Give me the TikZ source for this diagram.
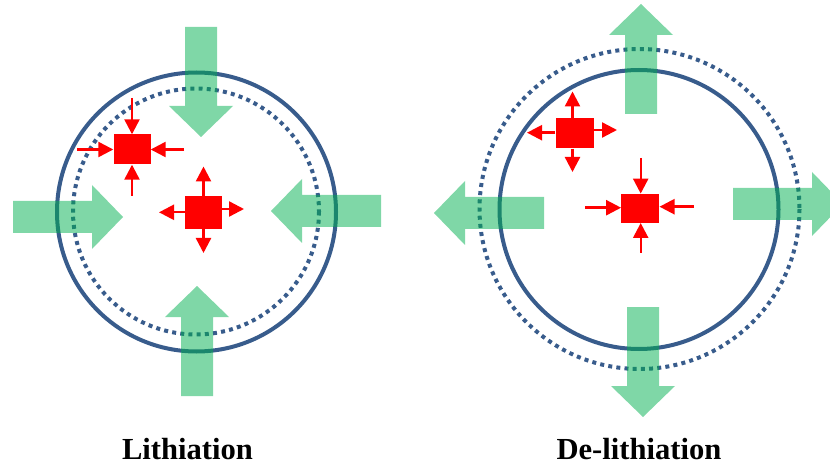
\documentclass[tikz,border=0pt]{standalone}
\usepackage{fontspec}
\setmainfont{Liberation Serif}
\usetikzlibrary{arrows.meta}
\definecolor{ringblue}{RGB}{56,92,140}
\definecolor{garrowgreen}{RGB}{0,176,80}
\tikzset{
  ring/.style={draw=ringblue, line width=4pt},
  dotring/.style={draw=ringblue, line width=4pt, dash pattern=on 4pt off 4.2pt},
  garrow/.style={fill=garrowgreen, opacity=0.5, draw=none},
  redsq/.style={rectangle, fill=red, draw=none, inner sep=0pt, minimum width=37pt, minimum height=30pt},
  redarr/.style={draw=red, line width=2.4pt, -{Triangle[length=15pt,width=15pt]}},
  label/.style={anchor=base, font=\bfseries\fontsize{30.6pt}{34pt}\selectfont, inner sep=0pt}
}
\newcommand\greenarrow[3]{%
  \begin{scope}[shift={(#1,#2)}, rotate=#3]
    \fill[garrow] (0,-16) -- (79,-16) -- (79,-32) -- (110,0) -- (79,32) -- (79,16) -- (0,16) -- cycle;
  \end{scope}}
\begin{document}
\begin{tikzpicture}[x=1pt,y=-1pt]
\useasboundingbox (0,0) rectangle (830,465);
% ---------- Lithiation ----------
\draw[ring] (196.5,212) circle[radius=139.5];
\draw[dotring] (196,211.5) circle[radius=123];
\greenarrow{201}{27}{-90}
\greenarrow{13}{217}{0}
\greenarrow{381}{211}{180}
\greenarrow{197}{396}{90}
\node[redsq] (A) at (132,149.5) {};
\node[redsq, minimum height=33pt] (B) at (203.5,212.3) {};
\coordinate (a1) at (132,98);
\coordinate (a2) at (132,196);
\coordinate (a3) at (77,149.5);
\coordinate (a4) at (184,149.5);
\draw[redarr] (a1) -- (A.north);
\draw[redarr] (a2) -- (A.south);
\draw[redarr] (a3) -- (A.west);
\draw[redarr] (a4) -- (A.east);
\coordinate (b1) at (203.5,166.5);
\coordinate (b2) at (203.5,253);
\coordinate (b3) at (159,212.3);
\coordinate (b4) at (244,209);
\draw[redarr] (B.north) -- (b1);
\draw[redarr] (B.south) -- (b2);
\draw[redarr] (B.west |- b3) -- (b3);
\draw[redarr] (B.east |- b4) -- (b4);
\node[label] (L1) at (187.5,459) {Lithiation};
% ---------- De-lithiation ----------
\draw[ring] (639,209.5) circle[radius=139.5];
\draw[dotring] (639.5,209) circle[radius=160];
\greenarrow{641}{114}{90}
\greenarrow{544}{213}{180}
\greenarrow{733}{204}{0}
\greenarrow{643}{307}{-90}
\node[redsq, minimum width=38pt] (C) at (574.5,133.5) {};
\node[redsq, minimum width=38pt, minimum height=29pt] (D) at (640.3,208.3) {};
\coordinate (c1) at (572.5,91.5);
\coordinate (c2) at (572.5,172);
\coordinate (c3) at (527,132.7);
\coordinate (c4) at (617,130);
\draw[redarr] (C.north -| c1) -- (c1);
\draw[redarr] (C.south -| c2) -- (c2);
\draw[redarr] (C.west |- c3) -- (c3);
\draw[redarr] (C.east |- c4) -- (c4);
\coordinate (d1) at (640.7,158);
\coordinate (d2) at (640.7,253);
\coordinate (d3) at (585,207.7);
\coordinate (d4) at (694,206.7);
\draw[redarr] (d1) -- (D.north -| d1);
\draw[redarr] (d2) -- (D.south -| d2);
\draw[redarr] (d3) -- (D.west |- d3);
\draw[redarr] (d4) -- (D.east |- d4);
\node[label] (L2) at (639,459) {De-lithiation};
\end{tikzpicture}
\end{document}
